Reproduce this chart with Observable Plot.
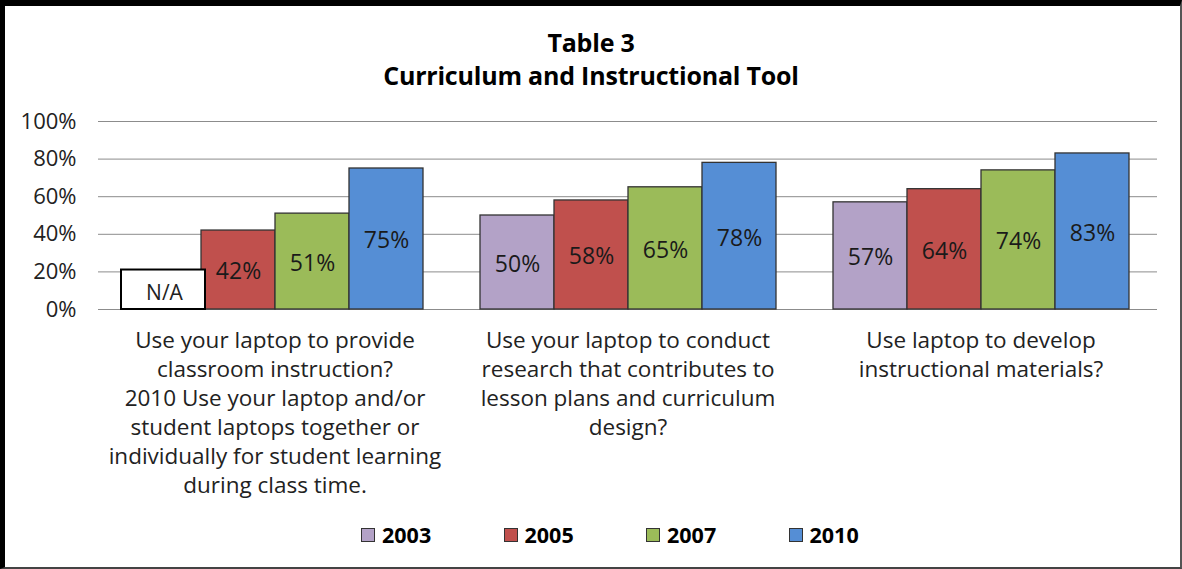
<!DOCTYPE html>
<html>
<head>
<meta charset="utf-8">
<script src="https://cdn.jsdelivr.net/npm/d3@7"></script>
<script src="https://cdn.jsdelivr.net/npm/@observablehq/plot@0.6"></script>
<style>
  html, body { margin: 0; padding: 0; background: #fff; }
  #page { position: relative; width: 1182px; height: 569px; overflow: hidden; background: #fff; font-family: "Open Sans", Lato, sans-serif; }
  #frame { position: absolute; left: 0; top: 0; width: 1182px; height: 569px; box-sizing: border-box;
           border-left: 5px solid #000; border-top: 6px solid #000; border-right: 2px solid #555; border-bottom: 2px solid #444; pointer-events: none; }
  #title { position: absolute; left: 0; top: 26px; width: 1182px; text-align: center; font-weight: bold; font-size: 25px; line-height: 33px; color: #000; letter-spacing: -0.2px; }
  #chart { position: absolute; left: 0; top: 100px; }
  #legend { position: absolute; left: 361px; top: 520px; display: flex; font-weight: bold; font-size: 21.5px; color: #000; line-height: 30px; }
  .item { display: flex; align-items: center; width: 142.5px; }
  .sw { width: 12px; height: 12px; border: 1px solid #333; margin-right: 7px; }
</style>
</head>
<body>
<div id="page">
  <div id="title">Table 3<br>Curriculum and Instructional Tool</div>
  <div id="chart"></div>
  <div id="legend"></div>
  <div id="frame"></div>
</div>
<script>
const questions = [
  "Use your laptop to provide\nclassroom instruction?\n2010 Use your laptop and/or\nstudent laptops together or\nindividually for student learning\nduring class time.",
  "Use your laptop to conduct\nresearch that contributes to\nlesson plans and curriculum\ndesign?",
  "Use laptop to develop\ninstructional materials?"
];
const years = ["2003", "2005", "2007", "2010"];
const colors = ["#B3A2C7", "#C0504D", "#9BBB59", "#558ED5"];
const values2003 = [null, 50, 57];
const values2005 = [42, 58, 64];
const values2007 = [51, 65, 74];
const values2010 = [75, 78, 83];
const naLabel = "N/A";
const naBoxHeight = 21; // height of the N/A placeholder box, read in %
const yTicks = [0, 20, 40, 60, 80, 100];

const series = [values2003, values2005, values2007, values2010];
const data = [];
questions.forEach((q, i) => {
  years.forEach((yr, j) => {
    const v = series[j][i];
    if (v != null) data.push({q, year: yr, value: v});
  });
});
const naData = questions.map((q, i) => ({q, year: "2003", value: naBoxHeight, missing: values2003[i] == null}))
  .filter(d => d.missing);

const font = "'Open Sans', Lato, sans-serif";

const plot = Plot.plot({
  width: 1182,
  height: 410,
  marginTop: 21,
  marginBottom: 201,
  marginLeft: 97,
  marginRight: 24,
  style: {fontFamily: font, fontSize: "19px", color: "#222", background: "transparent"},
  fx: {domain: questions, padding: 0, axis: null},
  x: {domain: years, paddingInner: 0, paddingOuter: 0.374, axis: null},
  y: {domain: [0, 100], ticks: yTicks, tickFormat: d => d + "%"},
  color: {domain: years, range: colors},
  marks: [
    Plot.ruleY(yTicks, {y: d => d, stroke: "#8c8c8c", strokeWidth: 1, facetAnchor: null}),
    Plot.axisY({ticks: yTicks, tickSize: 0, tickPadding: 22, tickFormat: d => d + "%", fontSize: 22, fill: "#222", label: null}),
    Plot.barY(data, {fx: "q", x: "year", y: "value", fill: "year", stroke: "#333", strokeWidth: 1.3}),
    Plot.barY(naData, {fx: "q", x: "year", y: "value", fill: "white", stroke: "#000", strokeWidth: 2, insetLeft: -6, insetRight: -4}),
    Plot.text(naData, {fx: "q", x: "year", y: d => d.value / 2, text: () => naLabel, dy: 4, fontSize: 21, fill: "#222"}),
    Plot.text(data, {fx: "q", x: "year", y: d => d.value / 2, text: d => d.value + "%", dy: 2, fontSize: 23, fill: "#1a1a1a"}),
    Plot.text(questions, {fx: d => d, text: d => d, frameAnchor: "bottom", lineAnchor: "top", dy: 18, lineHeight: 29 / 22.5, fontSize: 22.5, fill: "#222"})
  ]
});
document.getElementById("chart").appendChild(plot);

const legend = document.getElementById("legend");
years.forEach((yr, j) => {
  const it = document.createElement("div");
  it.className = "item";
  const sw = document.createElement("div");
  sw.className = "sw";
  sw.style.background = colors[j];
  const t = document.createElement("span");
  t.textContent = yr;
  it.appendChild(sw); it.appendChild(t);
  legend.appendChild(it);
});
</script>
</body>
</html>
